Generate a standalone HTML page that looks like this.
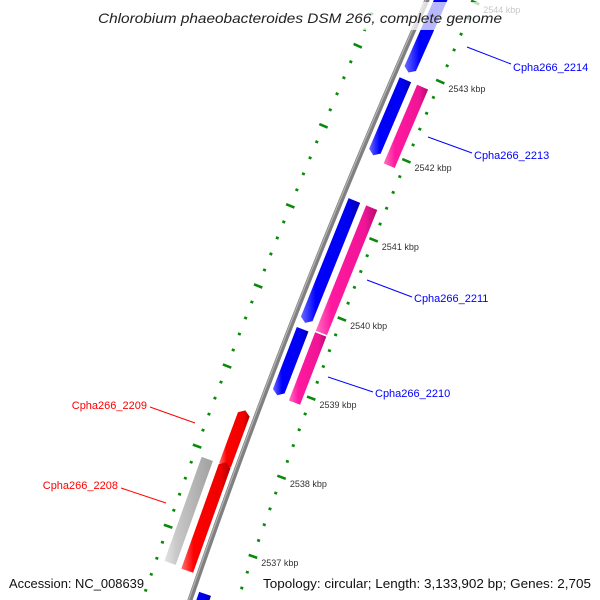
<!DOCTYPE html>
<html><head><meta charset="utf-8"><style>
html,body{margin:0;padding:0;background:#fff;width:600px;height:600px;overflow:hidden;position:relative;}
svg{display:block;font-family:"Liberation Sans",sans-serif;}
</style></head><body>
<svg id="map" width="600" height="600" viewBox="0 0 600 600" xmlns="http://www.w3.org/2000/svg" style="position:absolute;left:0;top:0">
<defs>
<linearGradient id="gBlue" x1="0" x2="1"><stop offset="0" stop-color="#6a6aff"/><stop offset="0.25" stop-color="#0000ff"/><stop offset="0.8" stop-color="#0000f0"/><stop offset="1" stop-color="#0000a8"/></linearGradient>
<linearGradient id="gPink" x1="0" x2="1"><stop offset="0" stop-color="#ff70c0"/><stop offset="0.25" stop-color="#ff1aa0"/><stop offset="0.8" stop-color="#f01496"/><stop offset="1" stop-color="#b00c6c"/></linearGradient>
<linearGradient id="gRed" x1="0" x2="1"><stop offset="0" stop-color="#ff7070"/><stop offset="0.25" stop-color="#ff0000"/><stop offset="0.8" stop-color="#f00000"/><stop offset="1" stop-color="#b00000"/></linearGradient>
<linearGradient id="gGray" x1="0" x2="1"><stop offset="0" stop-color="#e4e4e4"/><stop offset="0.25" stop-color="#c8c8c8"/><stop offset="1" stop-color="#a0a0a0"/></linearGradient>
</defs>
<g id="layer"></g>
</svg>
<script>
// ---- data ----
const tickKbp = [2544, 2543, 2542, 2541, 2540, 2539, 2538, 2537];
const tickLabels = ["2544 kbp","2543 kbp","2542 kbp","2541 kbp","2540 kbp","2539 kbp","2538 kbp","2537 kbp"];
const geneNames = ["blue-2214","blue-2213","pink-2213","blue-2211","pink-2211","blue-2210","pink-2210","red-2209","red-2208","gray-gene","blue-bottom"];
const geneStart = [2544.4, 2542.86, 2542.86, 2541.34, 2541.34, 2539.72, 2539.74, 2538.59, 2537.94, 2537.90, 2536.39];
const geneEnd   = [2542.95, 2541.91, 2541.87, 2539.80, 2539.76, 2538.89, 2538.88, 2537.90, 2536.58, 2536.60, 2535.4];
const geneTrack = ["fwd1","fwd1","fwd2","fwd1","fwd2","fwd1","fwd2","rev1","rev1","rev2","fwd1"];
const geneFill  = ["gBlue","gBlue","gPink","gBlue","gPink","gBlue","gPink","gRed","gRed","gGray","gBlue"];

// ---- geometry ----
const layer = document.getElementById('layer');
const NS = 'http://www.w3.org/2000/svg';
function xc(p){ return 427 - 0.445*p + 8.33e-5*p*p; }
function dxc(p){ return -0.445 + 2*8.33e-5*p; }
function pOf(k){ return 63.7 + (2543 - k)*79.6; }
function P(p,o){ const d=dxc(p), L=Math.sqrt(1+d*d); return [xc(p)+o/L, p - o*d/L]; }
const trackO = {fwd1:[6,18.5], fwd2:[25,37], rev1:[-18.5,-6], rev2:[-37,-25]};
function mk(tag, attrs){ const e=document.createElementNS(NS,tag); for(const k in attrs) e.setAttribute(k,attrs[k]); layer.appendChild(e); return e; }

// backbone
let pts=[]; for(let p=-20;p<=620;p+=10){ pts.push(P(p,0).join(',')); }
const bb = mk('polyline',{points:pts.join(' '),fill:'none',stroke:'#808080',"stroke-width":5});


let pts2=[]; for(let p=-20;p<=620;p+=10){ pts2.push(P(p,-1.2).join(',')); }
mk('polyline',{points:pts2.join(' '),fill:'none',stroke:'#b4b4b4',"stroke-width":1.2});

// tick rings
function ring(o, side){
  for(let k=2545.0;k>=2535.6;k-=0.2){
    const kk=Math.round(k*10)/10, major=Math.abs(kk-Math.round(kk))<0.01;
    const p=pOf(kk), h=major?4.5:1.5;
    const a=P(p,o-h), b=P(p,o+h);
    const t=mk('line',{x1:a[0],y1:a[1],x2:b[0],y2:b[1],stroke:'#0a8a0a',"stroke-width":2.6});
    
    
  }
}
ring(45,'outer');
ring(-45,'inner');
tickKbp.forEach((k,i)=>{
  const p=pOf(k), a=P(p,56);
  const t=mk('text',{x:a[0]-2,y:a[1]+6,"font-size":9,fill:'#333'});
  t.textContent=tickLabels[i];
  
  
});

// genes
geneStart.forEach((s,i)=>{
  const p1=pOf(s), p2=pOf(geneEnd[i]);
  const [o1,o2]=trackO[geneTrack[i]], om=(o1+o2)/2, a=4;
  let poly;
  if(geneTrack[i].startsWith('fwd')){
    poly=[P(p1,o1),P(p1,o2),P(p2-a,o2),P(p2,om),P(p2-a,o1)];
  } else {
    poly=[P(p1+a,o1),P(p1,om),P(p1+a,o2),P(p2,o2),P(p2,o1)];
  }
  if(geneFill[i]==='gPink'||geneFill[i]==='gGray'){ poly=[P(p1,o1),P(p1,o2),P(p2,o2),P(p2,o1)]; }
  const g=mk('polygon',{points:poly.map(q=>q.join(',')).join(' '),fill:'url(#'+geneFill[i]+')'});
  
  
});
</script>
<svg width="600" height="600" viewBox="0 0 600 600" style="position:absolute;left:0;top:0" font-family="Liberation Sans, sans-serif">
<g font-size="11">
<line x1="467" y1="47" x2="511" y2="64" stroke="#0000ff"/>
<text x="513" y="71" fill="#0000ff">Cpha266_2214</text>
<line x1="428" y1="137" x2="472" y2="153" stroke="#0000ff"/>
<text x="474" y="159" fill="#0000ff">Cpha266_2213</text>
<line x1="367" y1="280" x2="412" y2="297" stroke="#0000ff"/>
<text x="414" y="302" fill="#0000ff">Cpha266_2211</text>
<line x1="328" y1="377" x2="373" y2="392" stroke="#0000ff"/>
<text x="375" y="397" fill="#0000ff">Cpha266_2210</text>
<line x1="150" y1="407" x2="195" y2="423" stroke="#ff0000"/>
<text x="147" y="409" fill="#ff0000" text-anchor="end">Cpha266_2209</text>
<line x1="121" y1="488" x2="166" y2="503" stroke="#ff0000"/>
<text x="118" y="489" fill="#ff0000" text-anchor="end">Cpha266_2208</text>
</g>
<rect x="92" y="2" width="436" height="28" fill="#fff" opacity="0.72"/>
<text x="98" y="23" font-size="14" font-style="italic" fill="#222" textLength="404" lengthAdjust="spacingAndGlyphs">Chlorobium phaeobacteroides DSM 266, complete genome</text>
<text x="9" y="588" font-size="13" fill="#111" textLength="135" lengthAdjust="spacingAndGlyphs">Accession: NC_008639</text>
<text x="263" y="588" font-size="13" fill="#111" textLength="328" lengthAdjust="spacingAndGlyphs">Topology: circular; Length: 3,133,902 bp; Genes: 2,705</text>
</svg>
</body></html>
